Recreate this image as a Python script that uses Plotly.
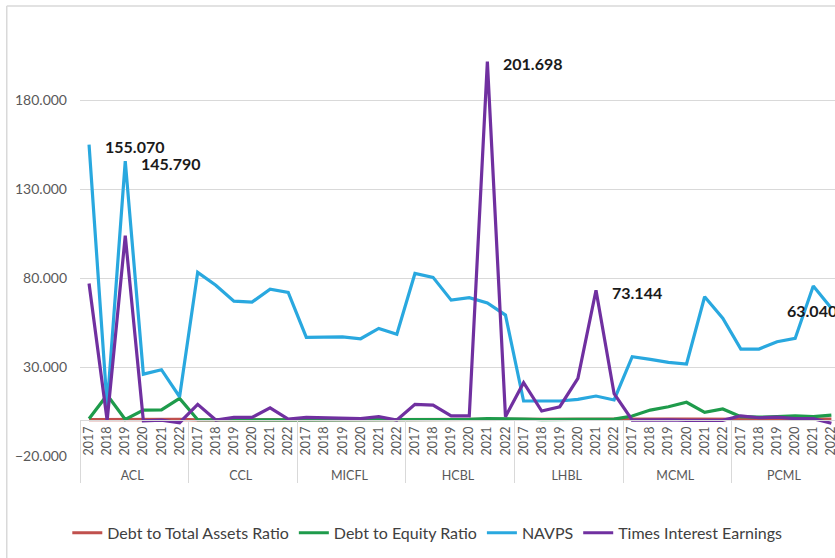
import plotly.graph_objects as go

companies = ["ACL", "CCL", "MICFL", "HCBL", "LHBL", "MCML", "PCML"]
years = ["2017", "2018", "2019", "2020", "2021", "2022"]

debt_to_total_assets = [
    0.5, 0.6, 0.4, 0.5, 0.5, 0.6,
    0.3, 0.3, 0.3, 0.3, 0.3, 0.3,
    0.3, 0.3, 0.3, 0.3, 0.3, 0.3,
    0.4, 0.4, 0.4, 0.5, 0.5, 0.5,
    0.4, 0.4, 0.4, 0.4, 0.4, 0.4,
    0.6, 0.7, 0.7, 0.8, 0.7, 0.7,
    0.6, 0.6, 0.6, 0.7, 0.6, 0.7,
]
debt_to_equity = [
    0.9, 14.3, 0.6, 5.8, 5.9, 12.4,
    0.4, 0.3, 0.3, 0.4, 0.4, 0.3,
    0.3, 0.3, 0.3, 0.3, 0.3, 0.3,
    0.4, 0.4, 0.5, 0.6, 1.0, 1.1,
    0.8, 0.5, 0.6, 0.5, 0.5, 0.7,
    2.5, 5.8, 7.7, 10.2, 4.5, 6.4,
    2.1, 1.8, 2.1, 2.6, 2.1, 3.0,
]
navps = [
    155.07, 8.0, 145.79, 26.0, 28.5, 13.3,
    83.2, 76.0, 67.0, 66.5, 73.8, 72.0,
    46.7, 47.0, 47.0, 45.9, 51.7, 48.4,
    82.6, 80.4, 67.6, 69.0, 66.0, 59.2,
    10.9, 10.9, 10.9, 11.8, 13.7, 11.5,
    35.8, 34.3, 32.6, 31.7, 69.5, 57.4,
    40.1, 40.1, 44.2, 46.1, 75.5, 63.04,
]
times_interest_earnings = [
    77.0, 0.0, 103.8, -0.3, 0.2, -1.3,
    9.0, 0.2, 1.7, 1.7, 7.1, 0.8,
    1.7, 1.5, 1.2, 1.0, 2.1, 0.2,
    9.0, 8.6, 2.5, 2.5, 201.698, 2.1,
    21.2, 5.3, 7.7, 23.6, 73.144, 15.0,
    0.2, 0.3, 0.3, 0.0, 0.0, 0.0,
    2.6, 1.5, 1.8, 1.0, 1.0, -1.6,
]

series_names = ["Debt to Total Assets Ratio", "Debt to Equity Ratio", "NAVPS", "Times Interest Earnings"]
series_values = [debt_to_total_assets, debt_to_equity, navps, times_interest_earnings]
series_colors = ["#C0504D", "#1E9B4B", "#29A8DF", "#7030A0"]

# labelled points: (series, company, year, side)
labelled_points = [
    ("NAVPS", "ACL", "2017", "right"),
    ("NAVPS", "ACL", "2019", "right"),
    ("Times Interest Earnings", "HCBL", "2021", "right"),
    ("Times Interest Earnings", "LHBL", "2021", "right"),
    ("NAVPS", "PCML", "2022", "left"),
]

x_outer = [c for c in companies for _ in years]
x_inner = [y for _ in companies for y in years]

FONT = "Lato, Open Sans, sans-serif"

fig = go.Figure()
for name, vals, col in zip(series_names, series_values, series_colors):
    fig.add_trace(go.Scatter(
        x=[x_outer, x_inner], y=vals, mode="lines", name=name,
        line=dict(color=col, width=3.2), hoverinfo="skip",
    ))

annotations = []
for sname, comp, yr, side in labelled_points:
    idx = companies.index(comp) * len(years) + years.index(yr)
    val = series_values[series_names.index(sname)][idx]
    annotations.append(dict(
        x=idx, y=val, xref="x", yref="y", text="<b>%.3f</b>" % val,
        showarrow=False, xanchor="left" if side == "right" else "right",
        yanchor="middle", xshift=14 if side == "right" else 8, yshift=-2,
        font=dict(family=FONT, size=16, color="#1a1a1a"),
    ))

ymin, ymax = -20, 220
fig.update_layout(
    width=835, height=558,
    margin=dict(l=80, r=0, t=29, b=102),
    paper_bgcolor="white", plot_bgcolor="white",
    font=dict(family=FONT, color="#595959"),
    showlegend=True,
    legend=dict(orientation="h", x=0.46, xanchor="center", y=-0.18, yanchor="middle",
                font=dict(family=FONT, size=16, color="#404040"), itemwidth=30,
                traceorder="normal"),
    annotations=annotations,
    shapes=[
        dict(type="line", xref="paper", yref="paper", x0=-0.097, x1=1.05, y0=1.054, y1=1.054,
             line=dict(color="#D9D9D9", width=1.5)),
        dict(type="line", xref="paper", yref="paper", x0=-0.097, x1=-0.097, y0=1.054, y1=-0.25,
             line=dict(color="#D9D9D9", width=1.5)),
    ],
)
fig.update_xaxes(
    type="multicategory", anchor="free", position=(0 - ymin) / (ymax - ymin),
    range=[-0.5, 41.2], showgrid=False, showline=True, linecolor="#D9D9D9", linewidth=1,
    ticks="", tickangle=-90, tickfont=dict(family=FONT, size=12.5, color="#595959"),
    showdividers=True, dividercolor="#D9D9D9", dividerwidth=1,
)
fig.update_yaxes(
    range=[ymin, ymax], tick0=-20, dtick=50, tickformat=".3f",
    showgrid=True, gridcolor="#D9D9D9", gridwidth=1, zeroline=False, showline=False,
    tickfont=dict(family=FONT, size=14, color="#595959"), ticks="", ticklabelstandoff=12,
)

fig.write_html("out.html")
